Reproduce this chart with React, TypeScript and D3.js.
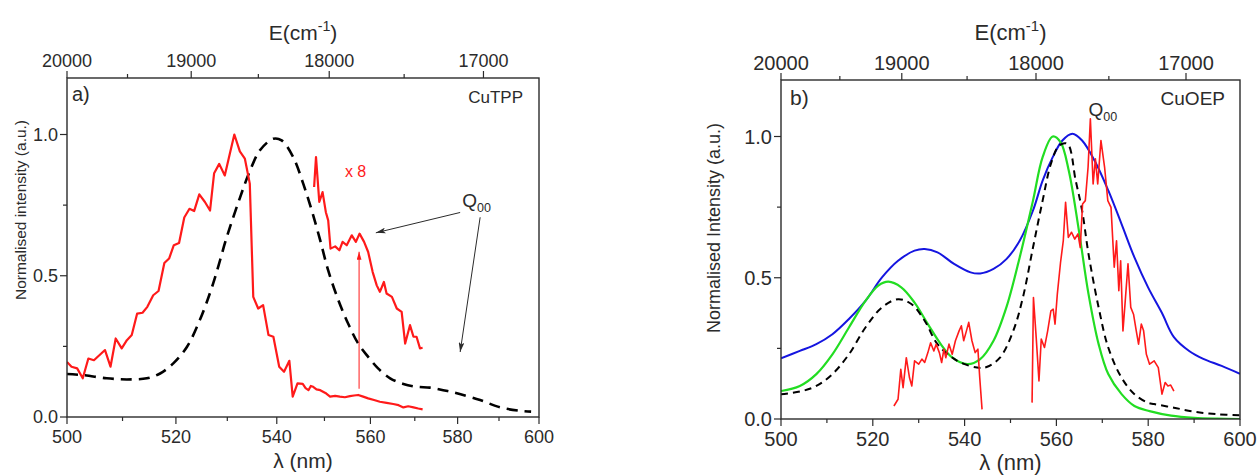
import React from 'react';
import * as d3 from 'd3';

const FONT = "'Liberation Sans', Arial, Helvetica, sans-serif";

// ---------- axis ticks ----------
const lambdaTicks = [500, 520, 540, 560, 580, 600];
const lambdaMinor = [510, 530, 550, 570, 590];
const energyTicks = [20000, 19000, 18000, 17000];
const energyMinor = [19500, 18500, 17500];
const yTicks = [0, 0.5, 1.0];
const yMinor = [0.25, 0.75];

// ---------- panel a) CuTPP ----------
const aRedNm = [500, 500.8, 501.8, 502.8, 503.8, 504.8, 506.8, 507.8, 508.75, 509.85, 510.8, 511.7, 512.7, 513.7, 514.6, 515.7, 516.7, 517.8, 518.7, 519.6, 520.6, 521.6, 522.6, 523.5, 524.5, 525.6, 526.6, 527.4, 528.4, 529.5, 530.5, 531.4, 532.5, 533.5, 534.5, 535.2, 536.2, 537.2, 538.3, 539.3, 540.5, 541.5, 542.6, 543.3, 544.3, 545.4, 546.0, 546.6, 547.1, 547.6, 548.3, 549.1, 550.2, 551.2, 552.3, 553.3, 554.4, 555.5, 556.4, 557.3, 558.4, 559.5, 560.8, 562.1, 563.6, 565.1, 566.3, 567.4, 568.5, 569.7, 570.8, 571.8];
const aRedI = [0.195, 0.178, 0.172, 0.137, 0.207, 0.201, 0.237, 0.178, 0.278, 0.243, 0.272, 0.29, 0.366, 0.369, 0.39, 0.431, 0.446, 0.545, 0.561, 0.608, 0.616, 0.706, 0.737, 0.729, 0.788, 0.761, 0.731, 0.863, 0.896, 0.855, 0.932, 1.0, 0.94, 0.915, 0.826, 0.425, 0.384, 0.396, 0.29, 0.284, 0.178, 0.16, 0.199, 0.072, 0.119, 0.117, 0.102, 0.095, 0.11, 0.107, 0.098, 0.095, 0.085, 0.072, 0.075, 0.072, 0.07, 0.074, 0.076, 0.078, 0.072, 0.066, 0.06, 0.054, 0.05, 0.046, 0.042, 0.034, 0.038, 0.034, 0.03, 0.027];

const aX8Nm = [547.8, 548.2, 548.9, 549.6, 550.3, 550.8, 551.3, 552.3, 553.2, 553.9, 554.8, 555.9, 556.8, 557.6, 558.6, 559.5, 560.5, 561.4, 562.1, 563.0, 563.6, 564.8, 565.9, 567.0, 567.8, 568.9, 569.7, 570.4, 571.2, 571.8];
const aX8I = [0.814, 0.92, 0.761, 0.796, 0.725, 0.696, 0.596, 0.604, 0.59, 0.62, 0.608, 0.643, 0.62, 0.649, 0.62, 0.584, 0.513, 0.466, 0.443, 0.478, 0.437, 0.425, 0.384, 0.372, 0.26, 0.325, 0.284, 0.284, 0.243, 0.245];

const aAbsNm = [500, 503, 507.1, 510.8, 514.5, 517.0, 519.5, 522.1, 524.6, 527.2, 529.9, 532.5, 534.5, 536.6, 539.3, 541.0, 543.4, 545.5, 547.3, 549.1, 550.8, 553.0, 555.1, 557.3, 559.5, 561.7, 564.4, 567.4, 570.4, 573.5, 576.6, 579.6, 585.4, 590.3, 595.2, 598.0];
const aAbsI = [0.152, 0.148, 0.137, 0.133, 0.137, 0.154, 0.19, 0.248, 0.343, 0.472, 0.637, 0.775, 0.87, 0.945, 0.985, 0.979, 0.92, 0.826, 0.731, 0.625, 0.519, 0.413, 0.331, 0.26, 0.213, 0.172, 0.137, 0.117, 0.107, 0.104, 0.095, 0.085, 0.06, 0.034, 0.022, 0.019];

// ---------- panel b) CuOEP ----------
const bBlueNm = [500, 504.1, 507.7, 511.2, 514.8, 518.4, 522.0, 525.5, 529.1, 531.3, 534.1, 537.7, 541.3, 543.4, 546.3, 549.1, 552.0, 554.9, 557.0, 559.2, 561.3, 563.5, 565.6, 568.5, 571.3, 574.2, 577.0, 580.0, 583.0, 585.6, 589.0, 592.0, 596.0, 600.0];
const bBlueI = [0.215, 0.241, 0.265, 0.3, 0.354, 0.418, 0.501, 0.56, 0.596, 0.602, 0.59, 0.549, 0.519, 0.515, 0.531, 0.566, 0.631, 0.738, 0.844, 0.927, 0.986, 1.01, 0.986, 0.909, 0.809, 0.69, 0.572, 0.465, 0.375, 0.29, 0.24, 0.213, 0.188, 0.16];

const bGreenNm = [500, 504.1, 507.7, 511.2, 514.8, 518.4, 521.2, 523.4, 526.2, 529.1, 532.0, 534.8, 537.0, 540.6, 543.4, 546.3, 549.1, 552.0, 554.9, 557.0, 559.2, 560.9, 562.7, 564.9, 567.0, 569.2, 571.3, 574.2, 577.0, 580.3, 585, 590, 595, 600];
const bGreenI = [0.099, 0.117, 0.159, 0.229, 0.324, 0.418, 0.472, 0.486, 0.466, 0.412, 0.336, 0.265, 0.222, 0.194, 0.212, 0.277, 0.395, 0.572, 0.773, 0.927, 1.0, 0.98, 0.879, 0.667, 0.442, 0.265, 0.159, 0.088, 0.046, 0.028, 0.012, 0.004, 0.001, 0.0];

const bAbsNm = [500, 504.1, 507.7, 511.2, 514.8, 518.4, 522.0, 525.5, 528.4, 531.3, 534.1, 538.4, 542.7, 544.8, 547.7, 550.6, 552.7, 554.9, 557.0, 558.8, 560.6, 562.4, 564.2, 565.6, 567.0, 569.2, 571.3, 574.2, 577.0, 579.9, 581.3, 585.6, 590, 595, 600];
const bAbsI = [0.088, 0.097, 0.117, 0.159, 0.229, 0.324, 0.395, 0.424, 0.407, 0.348, 0.265, 0.206, 0.182, 0.184, 0.217, 0.312, 0.43, 0.607, 0.773, 0.903, 0.968, 0.974, 0.844, 0.738, 0.584, 0.395, 0.253, 0.146, 0.088, 0.058, 0.053, 0.04, 0.026, 0.017, 0.013];

const bRed1Nm = [524.6, 525.5, 526.1, 526.6, 527.3, 528.0, 528.5, 529.1, 530.0, 530.7, 531.3, 532.0, 532.6, 533.3, 533.8, 534.5, 535.0, 535.5, 535.9, 536.6, 537.3, 538.0, 538.8, 539.3, 539.8, 540.4, 540.9, 541.6, 542.3, 542.9, 543.3, 543.8];
const bRed1I = [0.046, 0.07, 0.176, 0.111, 0.217, 0.146, 0.117, 0.206, 0.194, 0.212, 0.2, 0.235, 0.27, 0.241, 0.265, 0.235, 0.2, 0.247, 0.217, 0.265, 0.229, 0.277, 0.312, 0.33, 0.277, 0.312, 0.342, 0.277, 0.235, 0.247, 0.146, 0.034];

const bRed2Nm = [554.7, 555.0, 555.6, 556.2, 556.7, 557.4, 558.1, 558.8, 559.3, 559.7, 560.2, 560.9, 561.5, 562.0, 562.6, 563.3, 564.0, 564.7, 565.2, 565.7, 566.3, 566.9, 567.4, 568.0, 568.5, 569.0, 569.7, 570.5, 571.2, 571.9, 572.6, 573.1, 573.6, 574.0, 574.5, 575.0, 575.6, 576.2, 576.8, 577.4, 577.9, 578.5, 579.0, 579.6, 580.3, 581.3, 582.2, 583.0, 583.7, 584.3, 584.9, 585.6];
const bRed2I = [0.058, 0.43, 0.288, 0.135, 0.283, 0.253, 0.312, 0.383, 0.389, 0.336, 0.442, 0.554, 0.631, 0.767, 0.643, 0.661, 0.637, 0.655, 0.607, 0.761, 0.773, 0.891, 1.063, 0.832, 0.921, 0.832, 0.986, 0.891, 0.773, 0.749, 0.537, 0.631, 0.454, 0.56, 0.312, 0.418, 0.549, 0.395, 0.371, 0.312, 0.265, 0.336, 0.312, 0.229, 0.194, 0.206, 0.182, 0.088, 0.129, 0.117, 0.12, 0.099];

type Pt = [number, number];
const zip = (a: number[], b: number[]): Pt[] => a.map((v, i) => [v, b[i]]);

type PanelCfg = {
  x0: number; x1: number; yTop: number; yBot: number;
  xBottom: (nm: number) => number;
  xTop: (E: number) => number;
  tickFont: number; titleFont: number; yTitleFont: number;
  yTitle: string; yTitleX: number; yTitleY: number;
  topTitleY: number; bottomTitleY: number;
  bottomLabelY: number; topLabelY: number;
};

const INK = '#2b2b2b';

function Axes({ c, y }: { c: PanelCfg; y: d3.ScaleLinear<number, number> }) {
  const major = 7, minor = 4;
  const midX = (c.x0 + c.x1) / 2;
  return (
    <g fontFamily={FONT} fill={INK}>
      <rect x={c.x0} y={c.yTop} width={c.x1 - c.x0} height={c.yBot - c.yTop} fill="none" stroke={INK} strokeWidth={1.4} />
      {lambdaTicks.map(t => (
        <g key={'b' + t}>
          <line x1={c.xBottom(t)} x2={c.xBottom(t)} y1={c.yBot} y2={c.yBot + major} stroke={INK} strokeWidth={1.2} />
          <text x={c.xBottom(t)} y={c.bottomLabelY} fontSize={c.tickFont} textAnchor="middle">{t}</text>
        </g>
      ))}
      {lambdaMinor.map(t => (
        <line key={'bm' + t} x1={c.xBottom(t)} x2={c.xBottom(t)} y1={c.yBot} y2={c.yBot + minor} stroke={INK} strokeWidth={1.2} />
      ))}
      {energyTicks.map(t => (
        <g key={'t' + t}>
          <line x1={c.xTop(t)} x2={c.xTop(t)} y1={c.yTop} y2={c.yTop - major} stroke={INK} strokeWidth={1.2} />
          <text x={c.xTop(t)} y={c.topLabelY} fontSize={c.tickFont} textAnchor="middle">{t}</text>
        </g>
      ))}
      {energyMinor.map(t => (
        <line key={'tm' + t} x1={c.xTop(t)} x2={c.xTop(t)} y1={c.yTop} y2={c.yTop - minor} stroke={INK} strokeWidth={1.2} />
      ))}
      {yTicks.map(t => (
        <g key={'y' + t}>
          <line x1={c.x0} x2={c.x0 - major} y1={y(t)} y2={y(t)} stroke={INK} strokeWidth={1.2} />
          <text x={c.x0 - major - 2} y={y(t)} dy="0.35em" fontSize={c.tickFont} textAnchor="end">{t.toFixed(1)}</text>
        </g>
      ))}
      {yMinor.map(t => (
        <line key={'ym' + t} x1={c.x0} x2={c.x0 - minor} y1={y(t)} y2={y(t)} stroke={INK} strokeWidth={1.2} />
      ))}
      <text x={midX} y={c.topTitleY} fontSize={c.titleFont} textAnchor="middle">
        E(cm<tspan fontSize={c.titleFont * 0.68} dy={-c.titleFont * 0.42}>-1</tspan><tspan dy={c.titleFont * 0.42}>)</tspan>
      </text>
      <text x={midX} y={c.bottomTitleY} fontSize={c.titleFont} textAnchor="middle">λ (nm)</text>
      <text transform={`translate(${c.yTitleX},${c.yTitleY}) rotate(-90)`} fontSize={c.yTitleFont} textAnchor="middle" dy="0.35em">{c.yTitle}</text>
    </g>
  );
}

function Q00({ x, y, size }: { x: number; y: number; size: number }) {
  return (
    <text x={x} y={y} fontFamily={FONT} fontSize={size} fill={INK}>
      Q<tspan fontSize={size * 0.66} dy={size * 0.22}>00</tspan>
    </text>
  );
}

export default function App() {
  const W = 1259, H = 475;

  // panel a scales (bottom axis linear in wavenumber, as in the figure)
  const aE = d3.scaleLinear().domain([20000, 1e7 / 600]).range([67, 539]);
  const aLin = d3.scaleLinear().domain([500, 600]).range([67, 539]);
  const ya = d3.scaleLinear().domain([0, 1.2]).range([417, 78]);
  const cfgA: PanelCfg = {
    x0: 67, x1: 539, yTop: 78, yBot: 417,
    xBottom: nm => aE(1e7 / nm),
    xTop: E => aLin(1e7 / E),
    tickFont: 18, titleFont: 21, yTitleFont: 15.5,
    yTitle: 'Normalised intensity (a.u.)', yTitleX: 21, yTitleY: 210,
    topTitleY: 40, bottomTitleY: 468, bottomLabelY: 443, topLabelY: 67,
  };
  const xa = (nm: number) => cfgA.xBottom(nm);

  // panel b scales
  const xbS = d3.scaleLinear().domain([500, 600]).range([781, 1240]);
  const yb = d3.scaleLinear().domain([0, 1.2]).range([419, 80]);
  const cfgB: PanelCfg = {
    x0: 781, x1: 1240, yTop: 80, yBot: 419,
    xBottom: nm => xbS(nm),
    xTop: E => xbS(1e7 / E),
    tickFont: 20, titleFont: 22, yTitleFont: 18,
    yTitle: 'Normalised Intensity (a.u.)', yTitleX: 714, yTitleY: 228,
    topTitleY: 40, bottomTitleY: 470, bottomLabelY: 446, topLabelY: 70,
  };
  const xb = (nm: number) => xbS(nm);

  const lineA = d3.line<Pt>().x(d => xa(d[0])).y(d => ya(d[1]));
  const smoothA = d3.line<Pt>().x(d => xa(d[0])).y(d => ya(d[1])).curve(d3.curveCatmullRom.alpha(0.5));
  const lineB = d3.line<Pt>().x(d => xb(d[0])).y(d => yb(d[1]));
  const smoothB = d3.line<Pt>().x(d => xb(d[0])).y(d => yb(d[1])).curve(d3.curveCatmullRom.alpha(0.5));

  const RED = '#ff1a1a';

  // annotations (data units)
  const arrow1 = { from: [580.6, 0.724], to: [561.2, 0.652] };
  const arrow2 = { from: [585.4, 0.707], to: [580.6, 0.23] };
  const redArrow = { nm: 557.5, from: 0.1, to: 0.585 };

  return (
    <svg width={W} height={H} style={{ position: 'absolute', left: 0, top: 0, background: '#fff' }}>
      <defs>
        <marker id="arrBlack" viewBox="0 0 10 6" refX="10" refY="3" markerWidth="10" markerHeight="6" markerUnits="userSpaceOnUse" orient="auto">
          <path d="M0,0 L10,3 L0,6 L2.5,3 z" fill={INK} />
        </marker>
        <marker id="arrRed" viewBox="0 0 10 6" refX="10" refY="3" markerWidth="8" markerHeight="5" markerUnits="userSpaceOnUse" orient="auto">
          <path d="M0,0 L10,3 L0,6 z" fill={RED} />
        </marker>
        <clipPath id="clipA"><rect x={67} y={78} width={472} height={339} /></clipPath>
        <clipPath id="clipB"><rect x={781} y={80} width={459} height={339} /></clipPath>
      </defs>
      <rect width={W} height={H} fill="#fff" />

      {/* Panel a */}
      <g clipPath="url(#clipA)">
        <path d={smoothA(zip(aAbsNm, aAbsI)) || ''} fill="none" stroke="#000" strokeWidth={2.6} strokeDasharray="11 7" />
        <path d={lineA(zip(aRedNm, aRedI)) || ''} fill="none" stroke={RED} strokeWidth={2.2} strokeLinejoin="round" />
        <path d={lineA(zip(aX8Nm, aX8I)) || ''} fill="none" stroke={RED} strokeWidth={2.2} strokeLinejoin="round" />
        <line x1={xa(redArrow.nm)} x2={xa(redArrow.nm)} y1={ya(redArrow.from)} y2={ya(redArrow.to)} stroke={RED} strokeWidth={1} markerEnd="url(#arrRed)" />
      </g>
      <line x1={xa(arrow1.from[0])} y1={ya(arrow1.from[1])} x2={xa(arrow1.to[0])} y2={ya(arrow1.to[1])} stroke={INK} strokeWidth={1} markerEnd="url(#arrBlack)" />
      <line x1={xa(arrow2.from[0])} y1={ya(arrow2.from[1])} x2={xa(arrow2.to[0])} y2={ya(arrow2.to[1])} stroke={INK} strokeWidth={1} markerEnd="url(#arrBlack)" />
      <Axes c={cfgA} y={ya} />
      <text x={72} y={101} fontFamily={FONT} fontSize={20} fill={INK}>a)</text>
      <text x={523} y={103} fontFamily={FONT} fontSize={17} fill={INK} textAnchor="end">CuTPP</text>
      <text x={xa(554.4)} y={ya(0.848)} fontFamily={FONT} fontSize={16} fill={RED}>x 8</text>
      <Q00 x={xa(581.1)} y={ya(0.742)} size={19} />

      {/* Panel b */}
      <g clipPath="url(#clipB)">
        <path d={smoothB(zip(bBlueNm, bBlueI)) || ''} fill="none" stroke="#1515e0" strokeWidth={2} />
        <path d={smoothB(zip(bGreenNm, bGreenI)) || ''} fill="none" stroke="#22dd22" strokeWidth={2.2} />
        <path d={smoothB(zip(bAbsNm, bAbsI)) || ''} fill="none" stroke="#000" strokeWidth={2} strokeDasharray="7 5" />
        <path d={lineB(zip(bRed1Nm, bRed1I)) || ''} fill="none" stroke={RED} strokeWidth={1.6} strokeLinejoin="round" />
        <path d={lineB(zip(bRed2Nm, bRed2I)) || ''} fill="none" stroke={RED} strokeWidth={1.6} strokeLinejoin="round" />
      </g>
      <Axes c={cfgB} y={yb} />
      <text x={790} y={105} fontFamily={FONT} fontSize={21} fill={INK}>b)</text>
      <text x={1225} y={105} fontFamily={FONT} fontSize={19} fill={INK} textAnchor="end">CuOEP</text>
      <Q00 x={xb(567.0)} y={yb(1.071)} size={19} />
    </svg>
  );
}
